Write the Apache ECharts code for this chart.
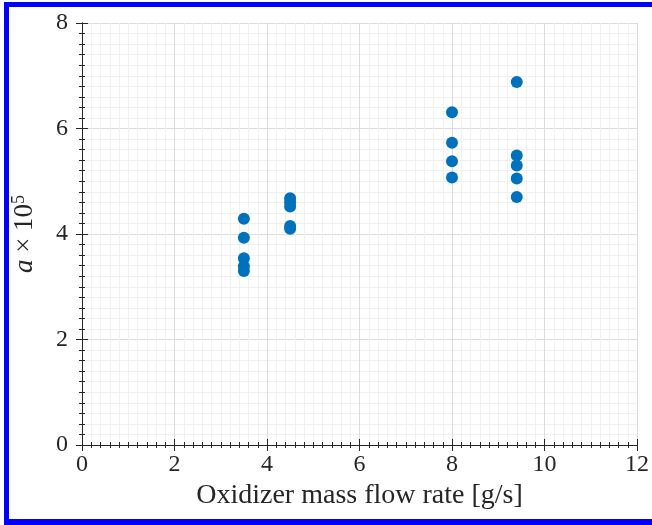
<!DOCTYPE html>
<html>
<head>
<meta charset="utf-8">
<script src="https://cdn.jsdelivr.net/npm/echarts@6/dist/echarts.min.js"></script>
<style>
  html, body { margin: 0; padding: 0; background: #ffffff; }
  #chart { width: 652px; height: 525px; }
</style>
</head>
<body>
<div id="chart"></div>
<script>
// Oxidizer mass flow rate groups [g/s] and measured a × 10^5 values
const flowRates = [3.5, 4.5, 8.0, 9.4];
const aAt3p5 = [4.29, 3.93, 3.54, 3.39, 3.30];
const aAt4p5 = [4.68, 4.60, 4.52, 4.15, 4.10];
const aAt8p0 = [6.31, 5.73, 5.38, 5.07];
const aAt9p4 = [6.88, 5.49, 5.30, 5.05, 4.70];

const xTicks = [0, 2, 4, 6, 8, 10, 12];
const yTicks = [0, 2, 4, 6, 8];

const groups = [aAt3p5, aAt4p5, aAt8p0, aAt9p4];
const points = [];
groups.forEach((vals, i) => vals.forEach(v => points.push([flowRates[i], v])));

const serif = '"Liberation Serif", "DejaVu Serif", serif';
const ink = '#262626';

function axisBase(extra) {
  return Object.assign({
    type: 'value',
    axisLine: { show: true, lineStyle: { color: ink, width: 1 } },
    axisTick: { show: true, inside: true, length: 6, lineStyle: { color: ink, width: 1 } },
    minorTick: { show: true, splitNumber: 10, length: 3, lineStyle: { color: ink, width: 1 } },
    splitLine: { show: false },
    minorSplitLine: { show: false },
    axisLabel: { show: false }
  }, extra);
}

const chart = echarts.init(document.getElementById('chart'), null, { renderer: 'canvas' });
chart.setOption({
  animation: false,
  backgroundColor: '#ffffff',
  grid: { left: 82, right: 14, top: 23, bottom: 80, containLabel: false },
  xAxis: [
    axisBase({
      position: 'bottom',
      min: xTicks[0], max: xTicks[xTicks.length - 1], interval: 2,
      name: 'Oxidizer mass flow rate [g/s]',
      nameLocation: 'middle', nameGap: 34,
      nameTextStyle: { fontFamily: serif, fontSize: 28, color: ink },
      axisLabel: { show: true, fontFamily: serif, fontSize: 24, color: ink, margin: 8 },
      splitLine: { show: true, lineStyle: { color: '#dcdcdc', width: 1 } },
      minorSplitLine: { show: true, lineStyle: { color: '#f0f0f0', width: 1 } }
    }),
    axisBase({ position: 'top', min: xTicks[0], max: xTicks[xTicks.length - 1], interval: 2 })
  ],
  yAxis: [
    axisBase({
      position: 'left',
      min: yTicks[0], max: yTicks[yTicks.length - 1], interval: 2,
      name: '{it|a} × 10{sup|5}',
      nameLocation: 'middle', nameGap: 42, nameRotate: 90,
      nameTextStyle: {
        fontFamily: serif, fontSize: 27, color: ink,
        rich: {
          it: { fontFamily: serif, fontSize: 27, fontStyle: 'italic', color: ink },
          sup: { fontFamily: serif, fontSize: 18, color: ink, padding: [0, 0, 12, 0] }
        }
      },
      axisLabel: { show: true, fontFamily: serif, fontSize: 24, color: ink, margin: 14 },
      splitLine: { show: true, lineStyle: { color: '#dcdcdc', width: 1 } },
      minorSplitLine: { show: true, lineStyle: { color: '#f0f0f0', width: 1 } }
    }),
    axisBase({ position: 'right', min: yTicks[0], max: yTicks[yTicks.length - 1], interval: 2 })
  ],
  series: [{
    type: 'scatter',
    xAxisIndex: 0, yAxisIndex: 0,
    data: points,
    symbol: 'circle',
    symbolSize: 12,
    itemStyle: { color: '#0072BD', opacity: 1 }
  }],
  graphic: [
    { type: 'rect', shape: { x: 4, y: 2, width: 648, height: 5 }, style: { fill: '#0000ff' } },
    { type: 'rect', shape: { x: 4, y: 2, width: 5, height: 523 }, style: { fill: '#0000ff' } },
    { type: 'rect', shape: { x: 4, y: 519, width: 648, height: 6 }, style: { fill: '#0000ff' } }
  ]
});
</script>
</body>
</html>
